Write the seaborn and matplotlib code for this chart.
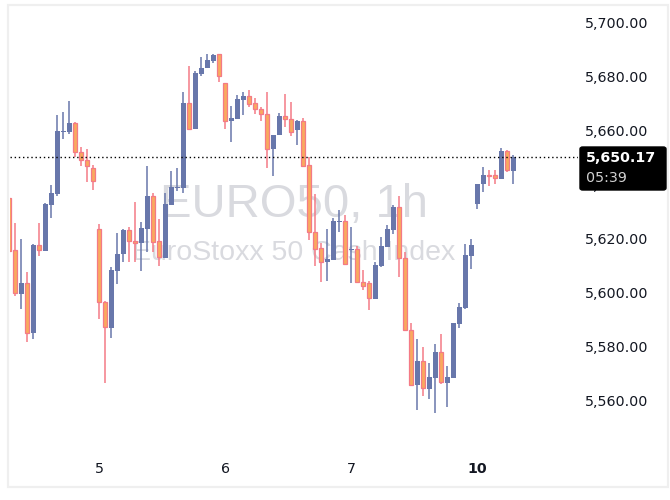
import numpy as np
import pandas as pd
import matplotlib
matplotlib.use("Agg")
import matplotlib.pyplot as plt
from matplotlib.patches import Rectangle, FancyBboxPatch
import seaborn as sns

# EURO50 1h candles (weekend gap skipped)
opens = [5635.1, 5615.7, 5599.6, 5603.6, 5585.0, 5617.6, 5615.5, 5632.5, 5636.6, 5659.5,
         5659.5, 5662.7, 5651.9, 5648.9, 5646.0, 5623.4, 5596.5, 5587.1, 5608.1, 5614.2,
         5623.1, 5619.1, 5618.5, 5623.6, 5635.7, 5619.0, 5612.9, 5632.5, 5638.8, 5638.8,
         5670.1, 5660.6, 5680.9, 5682.9, 5685.7, 5688.1, 5677.4, 5663.3, 5664.3, 5671.3,
         5672.6, 5670.0, 5667.8, 5666.0, 5653.0, 5658.1, 5665.3, 5664.1, 5660.0, 5663.4,
         5647.1, 5622.3, 5616.4, 5611.2, 5612.2, 5626.2, 5626.5, 5615.8, 5616.1, 5603.8,
         5603.5, 5597.8, 5610.0, 5616.9, 5623.3, 5631.5, 5612.7, 5586.3, 5565.8, 5574.8,
         5564.4, 5568.6, 5578.1, 5566.8, 5568.6, 5588.5, 5594.5, 5613.7, 5632.9, 5640.0,
         5643.5, 5643.5, 5642.1, 5652.3, 5645.1]
highs = [5635.1, 5625.9, 5619.8, 5607.6, 5618.0, 5625.8, 5633.0, 5639.8, 5665.6, 5666.8,
         5670.8, 5663.1, 5653.8, 5653.1, 5647.2, 5625.4, 5597.0, 5609.6, 5622.2, 5623.5,
         5624.2, 5633.5, 5626.2, 5646.8, 5636.8, 5627.2, 5636.9, 5645.0, 5646.2, 5674.1,
         5683.7, 5681.9, 5687.1, 5688.2, 5688.2, 5688.1, 5677.4, 5669.0, 5673.1, 5674.1,
         5674.8, 5671.8, 5668.6, 5674.1, 5658.1, 5666.4, 5673.4, 5670.3, 5663.8, 5664.4,
         5650.2, 5636.5, 5618.4, 5623.4, 5627.5, 5630.6, 5628.7, 5624.3, 5617.3, 5608.4,
         5604.2, 5611.3, 5620.6, 5624.9, 5632.4, 5635.7, 5615.0, 5588.8, 5582.9, 5579.8,
         5574.0, 5581.0, 5584.7, 5572.9, 5588.8, 5596.2, 5618.0, 5619.8, 5640.2, 5646.4,
         5645.2, 5645.2, 5653.5, 5652.7, 5650.9]
lows = [5615.5, 5598.9, 5594.0, 5581.9, 5583.0, 5613.7, 5615.5, 5627.7, 5635.8, 5656.9,
        5658.7, 5650.2, 5646.8, 5641.0, 5638.1, 5590.3, 5566.6, 5583.4, 5603.3, 5611.3,
        5611.3, 5611.3, 5608.1, 5615.0, 5615.0, 5610.0, 5612.9, 5632.5, 5637.7, 5636.9,
        5660.6, 5660.6, 5680.2, 5682.9, 5685.0, 5677.9, 5660.6, 5655.8, 5664.3, 5665.6,
        5668.6, 5665.9, 5663.4, 5646.2, 5643.2, 5658.1, 5661.3, 5658.0, 5654.5, 5646.7,
        5619.6, 5610.0, 5603.8, 5604.4, 5612.2, 5622.5, 5610.5, 5603.7, 5603.8, 5601.0,
        5593.5, 5597.8, 5609.4, 5616.9, 5621.8, 5605.8, 5586.1, 5565.8, 5556.7, 5561.9,
        5560.7, 5555.4, 5566.2, 5557.9, 5568.6, 5587.1, 5594.1, 5608.9, 5631.0, 5637.3,
        5639.5, 5640.3, 5642.1, 5644.5, 5640.3]
closes = [5615.5, 5599.8, 5603.6, 5585.0, 5617.6, 5615.7, 5632.8, 5636.8, 5659.7, 5659.7,
          5662.7, 5651.9, 5648.9, 5646.7, 5641.2, 5596.5, 5587.2, 5608.4, 5614.3, 5623.2,
          5619.0, 5618.5, 5623.8, 5635.8, 5618.8, 5613.1, 5632.8, 5639.0, 5639.2, 5670.1,
          5660.6, 5681.2, 5683.0, 5686.0, 5687.8, 5679.9, 5663.3, 5664.4, 5671.4, 5672.6,
          5669.6, 5667.8, 5665.9, 5653.0, 5658.1, 5665.3, 5664.1, 5659.3, 5663.4, 5646.9,
          5622.3, 5616.3, 5611.2, 5612.3, 5626.5, 5626.6, 5610.5, 5616.1, 5603.8, 5602.6,
          5597.9, 5610.2, 5617.3, 5623.5, 5631.7, 5612.7, 5586.3, 5565.8, 5574.8, 5564.7,
          5568.7, 5578.1, 5566.9, 5568.7, 5588.8, 5594.7, 5613.9, 5617.6, 5640.2, 5643.5,
          5643.0, 5642.3, 5652.3, 5645.2, 5650.17]

day_labels = ["5", "6", "7", "10"]
day_first_bar = [15, 36, 57, 78]
price_ticks = [5560, 5580, 5600, 5620, 5640, 5660, 5680, 5700]
last_price = 5650.17
countdown = "05:39"
title = "EURO50, 1h"
subtitle = "EuroStoxx 50 Cash Index"

UP = "#6877ab"
DOWN_FILL = "#f9a95e"
DOWN_EDGE = "#f47a86"

sns.set_theme(style="white")
plt.rcParams["font.family"] = ["DejaVu Sans"]

W, H = 670, 500
fig = plt.figure(figsize=(W / 100, H / 100), dpi=100)

# plot area in pixels
L, R, T, B = 10, 578, 8, 447
ax = fig.add_axes([L / W, 1 - B / H, (R - L) / W, (B - T) / H])

px_per_pt = 2.707
ax.set_ylim(5700 - (B - 22) / px_per_pt, 5700 + (22 - T) / px_per_pt)
ax.set_xlim((L - 9.3) / 6.0, (R - 9.3) / 6.0)

df = pd.DataFrame({"open": opens, "high": highs, "low": lows, "close": closes})
df["x"] = np.arange(len(df))
df["up"] = df["close"] >= df["open"]
df["bottom"] = df[["open", "close"]].min(axis=1)
df["height"] = (df["close"] - df["open"]).abs().clip(lower=0.4)

up = df[df["up"]]
dn = df[~df["up"]]

ax.vlines(up["x"], up["low"], up["high"], color=UP, lw=1.1, zorder=2)
ax.vlines(dn["x"], dn["low"], dn["high"], color=DOWN_EDGE, lw=1.1, zorder=2)
ax.bar(up["x"], up["height"], bottom=up["bottom"], width=0.76,
       color=UP, linewidth=0, zorder=3)
ax.bar(dn["x"], dn["height"], bottom=dn["bottom"], width=0.64,
       color=DOWN_FILL, edgecolor=DOWN_EDGE, linewidth=0.9, zorder=3)

# last price line
ax.axhline(last_price, color="black", ls=(0, (1, 2)), lw=1.0, zorder=4)

# watermark
ax.text(0.5, 0.552, title, transform=ax.transAxes, ha="center", va="center",
        fontsize=34, color="#d9dadf", family=["Liberation Sans"], zorder=0)
ax.text(0.5, 0.442, subtitle, transform=ax.transAxes, ha="center", va="center",
        fontsize=20.5, color="#d9dadf", family=["Liberation Sans"], zorder=0)

# axes styling
for s in ax.spines.values():
    s.set_visible(False)
ax.yaxis.tick_right()
ax.set_yticks(price_ticks)
ax.set_yticklabels([f"{v:,.2f}" for v in price_ticks])
ax.tick_params(axis="y", length=0, pad=5, labelsize=10.3, labelcolor="#131722")
ax.set_xticks(day_first_bar)
ax.set_xticklabels(day_labels)
ax.tick_params(axis="x", length=0, pad=11, labelsize=10.3, labelcolor="#131722")
for lbl in ax.get_xticklabels():
    if lbl.get_text() == "10":
        lbl.set_fontweight("bold")
for lbl in ax.get_yticklabels():
    lbl.set_horizontalalignment("left")
ax.grid(False)

# outer frame
fig.add_artist(Rectangle((8 / W, 1 - 487 / H), 660 / W, 482 / H, transform=fig.transFigure,
                         fill=False, ec="#efefef", lw=1.6))

# price tag
fig.add_artist(FancyBboxPatch((580 / W, 1 - 190 / H), 86 / W, 43 / H,
                              boxstyle="round,pad=0,rounding_size=0.004",
                              transform=fig.transFigure, fc="black", ec="black", zorder=5))
fig.text(586 / W, 1 - 158 / H, f"{last_price:,.2f}", color="white", fontsize=10.3,
         fontweight="bold", va="center", ha="left", zorder=6)
fig.text(586 / W, 1 - 178 / H, countdown, color="#d0d0d0", fontsize=10.3,
         va="center", ha="left", zorder=6)

fig.savefig("out.png", dpi=100, facecolor="white")
